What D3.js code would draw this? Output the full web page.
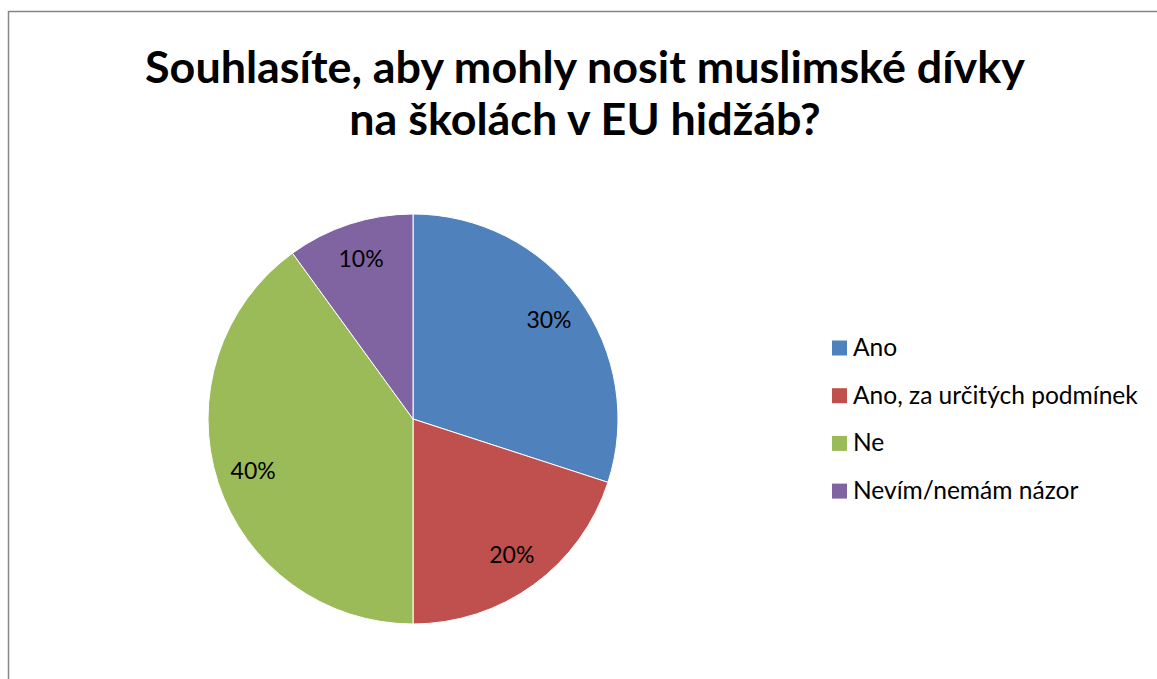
<!DOCTYPE html>
<html><head><meta charset="utf-8">
<script src="https://cdn.jsdelivr.net/npm/d3@7"></script>
<style>body{margin:0;background:#fff;} svg{display:block;}</style>
</head><body>
<svg id="c" width="1157" height="679"></svg>
<script>
const categories = ["Ano", "Ano, za určitých podmínek", "Ne", "Nevím/nemám názor"];
const values = [30, 20, 40, 10];
const colors = ["#4F81BD", "#C0504D", "#9BBB59", "#8064A2"];
const titleLines = ["Souhlasíte, aby mohly nosit muslimské dívky", "na školách v EU hidžáb?"];

const svg = d3.select("#c");
const font = "Lato, 'Open Sans', sans-serif";

svg.append("rect").attr("x", 8.5).attr("y", 11.5).attr("width", 1160).attr("height", 680)
  .attr("fill", "#fff").attr("stroke", "#868686").attr("stroke-width", 1.5);

// title
const tl = svg.append("g").selectAll("text").data(titleLines).join("text")
  .attr("x", 585).attr("y", (d, i) => 83 + i * 52)
  .attr("text-anchor", "middle").attr("font-family", font).attr("font-weight", "bold")
  .attr("font-size", 38).attr("fill", "#000").text(d => d);
const w0 = tl.nodes()[0].getComputedTextLength();
tl.attr("font-size", 38 * 880 / w0);

const cx = 413, cy = 419, r = 205;
const pie = d3.pie().sort(null).value(d => d)(values);
const arc = d3.arc().innerRadius(0).outerRadius(r);
const g = svg.append("g").attr("transform", `translate(${cx},${cy})`);
g.selectAll("path").data(pie).join("path")
  .attr("d", arc).attr("fill", (d, i) => colors[i])
  .attr("stroke", "#fff").attr("stroke-width", 1);

const total = d3.sum(values);
const lab = d3.arc().innerRadius(r * 0.82).outerRadius(r * 0.82);
g.selectAll("text").data(pie).join("text")
  .attr("transform", d => `translate(${lab.centroid(d)})`)
  .attr("text-anchor", "middle").attr("dy", "0.36em")
  .attr("font-family", font).attr("font-size", 23).attr("fill", "#000")
  .text(d => Math.round(d.data / total * 100) + "%");

// legend
const rows = svg.append("g").selectAll("g").data(categories).join("g")
  .attr("transform", (d, i) => `translate(832, ${348 + i * 47.7})`);
rows.append("rect").attr("x", 0).attr("y", -7.5).attr("width", 15).attr("height", 15)
  .attr("fill", (d, i) => colors[i]);
const lt = rows.append("text").attr("x", 21).attr("y", 8)
  .attr("font-family", font).attr("font-size", 20).attr("fill", "#000").text(d => d);
const lw = lt.nodes()[1].getComputedTextLength();
lt.attr("font-size", 20 * 285 / lw);
</script>
</body></html>
